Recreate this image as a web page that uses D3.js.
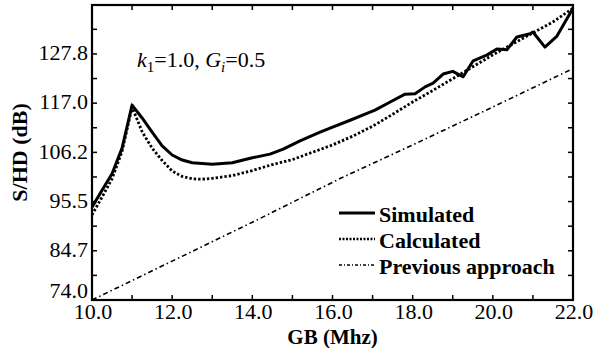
<!DOCTYPE html>
<html>
<head>
<meta charset="utf-8">
<script src="https://cdn.jsdelivr.net/npm/d3@7"></script>
<style>
  html, body { margin: 0; padding: 0; background: #fff; }
  svg text { font-family: "Liberation Serif", "DejaVu Serif", serif; }
</style>
</head>
<body>
<div id="chart"></div>
<script>
// values
const gbSim = [10.0, 10.25, 10.5, 10.75, 11.0, 11.25, 11.5, 11.75, 12.0, 12.25, 12.5, 13.0, 13.5, 14.0, 14.44, 14.77, 15.19, 15.69, 15.94, 16.44, 16.86, 17.06, 17.44, 17.81, 18.06, 18.31, 18.51, 18.76, 19.0, 19.26, 19.51, 19.86, 20.1, 20.35, 20.6, 20.93, 21.0, 21.3, 21.6, 22.0];
const simulated = [94.3, 98.0, 101.6, 107.2, 116.6, 113.8, 110.7, 107.7, 105.7, 104.6, 104.0, 103.7, 104.0, 105.1, 105.9, 107.0, 108.8, 110.7, 111.6, 113.3, 114.8, 115.5, 117.3, 119.0, 119.1, 120.6, 121.4, 123.4, 124.0, 122.8, 126.3, 127.6, 128.9, 128.7, 131.5, 132.2, 132.6, 129.3, 131.7, 137.8];

const gbCalc = [10.0, 10.25, 10.5, 10.75, 11.0, 11.25, 11.5, 11.75, 12.0, 12.25, 12.5, 12.75, 13.0, 13.5, 14.0, 14.5, 15.0, 15.5, 16.0, 16.5, 17.0, 17.5, 18.0, 18.5, 19.0, 19.5, 20.0, 20.5, 21.0, 21.5, 22.0];
const calculated = [92.6, 96.5, 100.5, 106.5, 116.2, 110.8, 107.2, 104.5, 102.2, 101.0, 100.5, 100.4, 100.6, 101.2, 102.3, 103.6, 104.7, 106.3, 107.9, 109.8, 112.0, 114.6, 117.3, 119.8, 122.4, 125.0, 127.6, 130.0, 132.4, 134.8, 137.8];

const gbPrev = [10.0, 12.0, 14.0, 16.2, 18.0, 20.0, 22.0];
const previous = [74.0, 82.5, 91.0, 100.6, 107.9, 116.2, 124.6];

const xTicks = [10, 12, 14, 16, 18, 20, 22];
const yTicks = [74.0, 84.7, 95.5, 106.2, 117.0, 127.8];

const legendLabels = ['Simulated', 'Calculated', 'Previous approach'];

const width = 597, height = 348;
const margin = { top: 5, right: 24, bottom: 48, left: 92 };
const serif = '"Liberation Serif", "Times New Roman", serif';

const svg = d3.select('#chart')
  .append('svg')
  .attr('width', width)
  .attr('height', height)
  .attr('font-family', serif);

const x = d3.scaleLinear().domain([10, 22]).range([margin.left, width - margin.right]);
const y = d3.scaleLinear().domain([74, 138.5]).range([height - margin.bottom, margin.top]);

// minor ticks: every 1.0 on x, half step on y
const xMinor = d3.range(10, 22.01, 1);
const yStep = 10.76;
const yMinor = d3.range(0, 13).map(i => 74 + i * yStep / 2).filter(v => v <= 138.5);

const g = svg.append('g');

// inward ticks on all four sides
const tickLen = 5;
g.selectAll('.xt-b').data(xMinor).enter().append('line')
  .attr('x1', d => x(d)).attr('x2', d => x(d))
  .attr('y1', y(74)).attr('y2', y(74) - tickLen)
  .attr('stroke', '#000').attr('stroke-width', 1.5);
g.selectAll('.xt-t').data(xMinor).enter().append('line')
  .attr('x1', d => x(d)).attr('x2', d => x(d))
  .attr('y1', y(138.5)).attr('y2', y(138.5) + tickLen)
  .attr('stroke', '#000').attr('stroke-width', 1.5);
g.selectAll('.yt-l').data(yMinor).enter().append('line')
  .attr('x1', x(10)).attr('x2', x(10) + tickLen)
  .attr('y1', d => y(d)).attr('y2', d => y(d))
  .attr('stroke', '#000').attr('stroke-width', 1.5);
g.selectAll('.yt-r').data(yMinor).enter().append('line')
  .attr('x1', x(22)).attr('x2', x(22) - tickLen)
  .attr('y1', d => y(d)).attr('y2', d => y(d))
  .attr('stroke', '#000').attr('stroke-width', 1.5);

// tick labels
g.selectAll('.xl').data(xTicks).enter().append('text')
  .attr('x', d => x(d) + 1)
  .attr('y', 319)
  .attr('text-anchor', 'middle')
  .style('font-family', serif)
  .style('font-size', '22px')
  .text(d => d.toFixed(1));

// the bottom label sits a little higher so it clears "10.0"
g.selectAll('.yl').data(yTicks).enter().append('text')
  .attr('x', margin.left - 4)
  .attr('y', d => y(d) + (d === 74 ? -2 : 6))
  .attr('text-anchor', 'end')
  .style('font-family', serif)
  .style('font-size', '22px')
  .text(d => d.toFixed(1));

// axis titles
svg.append('text')
  .attr('x', (x(10) + x(22)) / 2)
  .attr('y', 344)
  .attr('text-anchor', 'middle')
  .style('font-family', serif)
  .style('font-size', '21px')
  .style('font-weight', 'bold')
  .text('GB (Mhz)');

svg.append('text')
  .attr('transform', `translate(27, ${(y(74) + y(138.5)) / 2}) rotate(-90)`)
  .attr('text-anchor', 'middle')
  .style('font-family', serif)
  .style('font-size', '22px')
  .style('font-weight', 'bold')
  .text('S/HD (dB)');

// curves
const line = d3.line()
  .x(d => x(d[0]))
  .y(d => y(d[1]));

svg.append('clipPath').attr('id', 'plot')
  .append('rect')
  .attr('x', x(10)).attr('y', y(138.5))
  .attr('width', x(22) - x(10)).attr('height', y(74) - y(138.5));

const plot = svg.append('g').attr('clip-path', 'url(#plot)');

plot.append('path')
  .attr('d', line(d3.zip(gbPrev, previous)))
  .attr('fill', 'none')
  .attr('stroke', '#000')
  .attr('stroke-width', 1.6)
  .attr('stroke-dasharray', '5,3,1.5,3');

plot.append('path')
  .attr('d', line(d3.zip(gbCalc, calculated)))
  .attr('fill', 'none')
  .attr('stroke', '#000')
  .attr('stroke-width', 2.8)
  .attr('stroke-dasharray', '2.4,2');

plot.append('path')
  .attr('d', line(d3.zip(gbSim, simulated)))
  .attr('fill', 'none')
  .attr('stroke', '#000')
  .attr('stroke-width', 3)
  .attr('stroke-linejoin', 'round');

// frame
svg.append('rect')
  .attr('x', x(10)).attr('y', y(138.5))
  .attr('width', x(22) - x(10)).attr('height', y(74) - y(138.5))
  .attr('fill', 'none')
  .attr('stroke', '#000')
  .attr('stroke-width', 2.2);

// annotation k1=1.0, Gi=0.5
const ann = svg.append('text')
  .attr('x', 137)
  .attr('y', 67)
  .style('font-family', serif)
  .style('font-size', '22px');
ann.append('tspan').style('font-style', 'italic').text('k');
ann.append('tspan').attr('dy', 5).style('font-size', '15px').text('1');
ann.append('tspan').attr('dy', -5).text('=1.0, ');
ann.append('tspan').style('font-style', 'italic').text('G');
ann.append('tspan').attr('dy', 5).style('font-size', '15px').style('font-style', 'italic').text('i');
ann.append('tspan').attr('dy', -5).text('=0.5');

// legend
const legendStyles = [
  { dash: null, w: 2.8 },
  { dash: '2,1.5', w: 2.4 },
  { dash: '3,2,1,2', w: 1.4 }
];
const legend = svg.append('g');
legendLabels.forEach((lab, i) => {
  const by = 222 + i * 26;
  legend.append('line')
    .attr('x1', 339).attr('x2', 375)
    .attr('y1', by - 9).attr('y2', by - 9)
    .attr('stroke', '#000')
    .attr('stroke-width', legendStyles[i].w)
    .attr('stroke-dasharray', legendStyles[i].dash);
  legend.append('text')
    .attr('x', 379)
    .attr('y', by)
    .style('font-family', serif)
    .style('font-size', '22px')
    .style('font-weight', 'bold')
    .text(lab);
});
</script>
</body>
</html>
